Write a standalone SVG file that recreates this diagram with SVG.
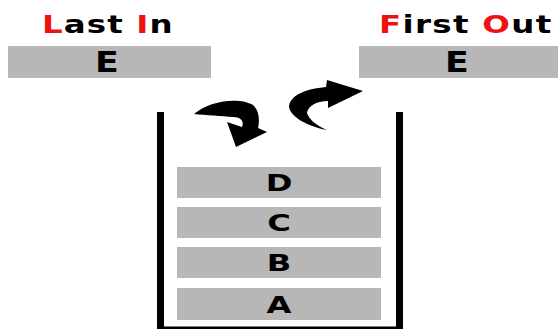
<svg xmlns="http://www.w3.org/2000/svg" width="558" height="329" viewBox="0 0 558 329">
<style>
.box{fill:#b7b7b7}
.t{font-family:"DejaVu Sans","Verdana",sans-serif;font-weight:bold;fill:#000}
.r{fill:#ee1111}
.h{font-size:25px}
.e{font-size:29px;text-anchor:middle}
.s{font-size:23px;text-anchor:middle}
.arrow{fill:#000}
</style>
<rect width="558" height="329" fill="#fff"/>
<g id="title-left"><text class="t h" transform="translate(42,33) scale(1.3,1)" x="0" y="0" textLength="100.5" lengthAdjust="spacing"><tspan class="r">L</tspan>ast <tspan class="r">I</tspan>n</text></g>
<g id="title-right"><text class="t h" transform="translate(379,33) scale(1.3,1)" x="0" y="0" textLength="132.5" lengthAdjust="spacing"><tspan class="r">F</tspan>irst <tspan class="r">O</tspan>ut</text></g>
<g id="in-E"><rect class="box" x="8" y="46" width="203" height="32"/><text class="t e" transform="translate(107,71.5) scale(1.2,1)">E</text></g>
<g id="out-E"><rect class="box" x="359" y="46" width="199" height="32"/><text class="t e" transform="translate(457,71.5) scale(1.2,1)">E</text></g>
<g id="stack"><path d="M160.5,112 V330 H399.5 V112" fill="none" stroke="#000" stroke-width="7"/></g>
<g id="D"><rect class="box" x="177" y="167" width="204" height="31"/><text class="t s" transform="translate(279,191) scale(1.4,1)">D</text></g>
<g id="C"><rect class="box" x="177" y="207" width="204" height="31"/><text class="t s" transform="translate(279,231) scale(1.4,1)">C</text></g>
<g id="B"><rect class="box" x="177" y="247" width="204" height="31"/><text class="t s" transform="translate(279,271) scale(1.4,1)">B</text></g>
<g id="A"><rect class="box" x="177" y="288" width="204" height="32"/><text class="t s" transform="translate(279,312.5) scale(1.4,1)">A</text></g>
<g id="connectors">
<path class="arrow" d="M194,114 C210,100 240,97 253,105 C259,110 260,120 258,128 L267,132 L236,147 L227,122 L242,127 C244,122 242,117 233,117 C222,116 206,115 194,114 Z"/>
<path class="arrow" d="M327,130 C305,126 289,115 289,106 C291,95 305,89 326,87 L327,80 L363,91 L328,108 L328,101 C316,101 308,106 307,113 C309,120 318,126 327,130 Z"/>
</g>
</svg>
